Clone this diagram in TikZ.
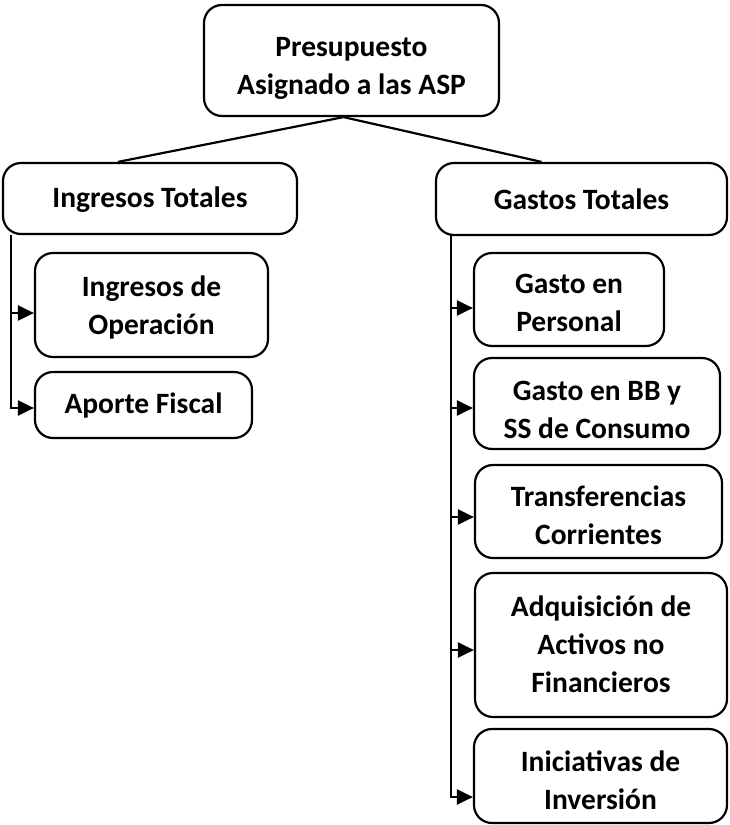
\documentclass[tikz,border=0pt]{standalone}
\usepackage{fontspec}
\setmainfont{Carlito}
\usetikzlibrary{arrows.meta,calc}
\newcommand{\lowtext}[2]{\raisebox{-#1}[\height][\depth]{\begin{tabular}{@{}c@{}}#2\end{tabular}}}
\begin{document}
\begin{tikzpicture}[x=1pt,y=-1pt,
  box/.style={draw=black, line width=2.2pt, rounded corners=18pt, align=center,
    font=\fontsize{29.5}{38}\selectfont\bfseries, inner sep=0pt},
  conn/.style={line width=2.2pt},
  arr/.style={line width=2.2pt, -{Triangle[length=16pt,width=15pt]}}]
\useasboundingbox (0,0) rectangle (729,825);
\node[box, minimum width=295pt, minimum height=111pt] (top) at (351.5,60.5) {\lowtext{7pt}{Presupuesto\\Asignado a las ASP}};
\node[box, minimum width=294pt, minimum height=71pt] (it) at (150,198.5) {\lowtext{1pt}{Ingresos Totales}};
\node[box, minimum width=291pt, minimum height=72pt] (gt) at (581.5,199) {Gastos Totales};
\node[box, minimum width=233pt, minimum height=104pt] (io) at (151.5,305) {\lowtext{2.5pt}{Ingresos de\\Operación}};
\node[box, minimum width=217pt, minimum height=66pt] (af) at (143.5,405) {Aporte Fiscal};
\node[box, minimum width=190pt, minimum height=93pt] (gp) at (569,299.5) {\lowtext{5.5pt}{Gasto en\\Personal}};
\node[box, minimum width=246pt, minimum height=91pt] (gb) at (597,403.5) {\lowtext{8pt}{Gasto en BB y\\SS de Consumo}};
\node[box, minimum width=247pt, minimum height=93pt] (tc) at (598.5,511.5) {\lowtext{6pt}{Transferencias\\Corrientes}};
\node[box, minimum width=252pt, minimum height=144pt] (aq) at (601,645) {\lowtext{2pt}{Adquisición de\\Activos no\\Financieros}};
\node[box, minimum width=253pt, minimum height=94pt] (ii) at (600.5,776) {\lowtext{7pt}{Iniciativas de\\Inversión}};
\draw[conn] ([xshift=-8pt]top.south) -- ([xshift=-32pt]it.north);
\draw[conn] ([xshift=-8pt]top.south) -- ([xshift=-40pt]gt.north);
\draw[arr] ([xshift=9pt]it.south west) |- ($(io.west)+(0,8)$);
\draw[arr] ([xshift=9pt]it.south west) |- ($(af.west)+(0,3)$);
\draw[arr] ([xshift=16pt]gt.south west) |- ($(gp.west)+(0,8.5)$);
\draw[arr] ([xshift=16pt]gt.south west) |- ($(gb.west)+(0,4.5)$);
\draw[arr] ([xshift=16pt]gt.south west) |- ($(tc.west)+(0,5.5)$);
\draw[arr] ([xshift=16pt]gt.south west) |- ($(aq.west)+(0,5)$);
\draw[arr] ([xshift=16pt]gt.south west) |- ($(ii.west)+(0,21)$);
\end{tikzpicture}
\end{document}
